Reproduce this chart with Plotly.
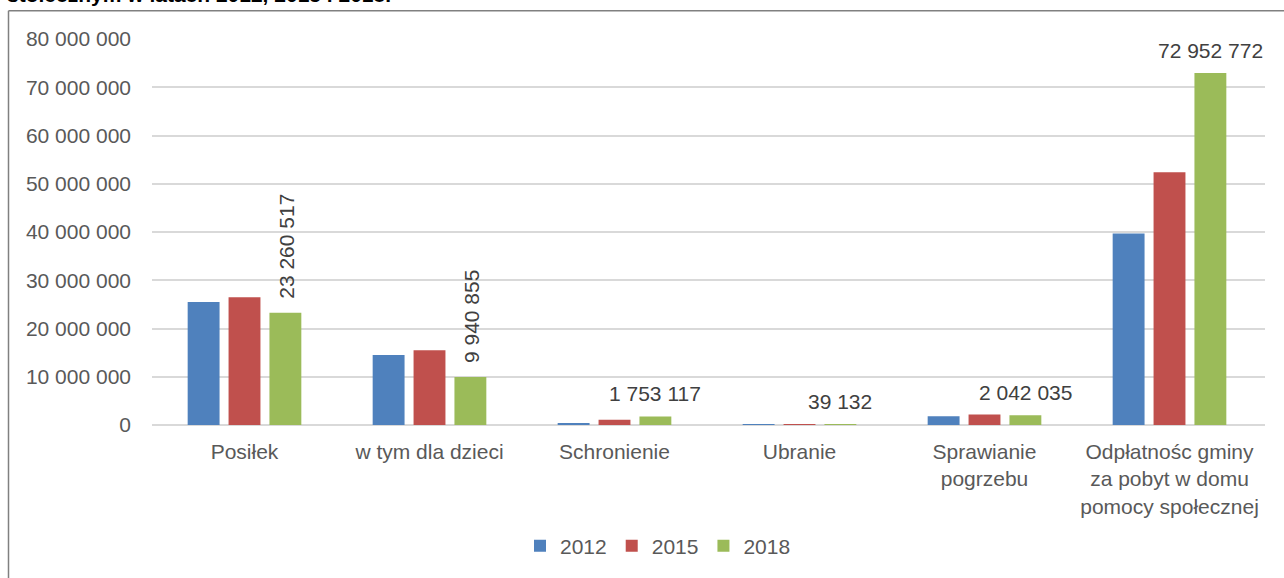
import plotly.graph_objects as go

categories = ["Posiłek", "w tym dla dzieci", "Schronienie", "Ubranie",
              "Sprawianie<br>pogrzebu",
              "Odpłatnośc gminy<br>za pobyt w domu<br>pomocy społecznej"]
years = ["2012", "2015", "2018"]
v2012 = [25500000, 14500000, 400000, 50000, 1800000, 39700000]
v2015 = [26500000, 15500000, 1100000, 40000, 2200000, 52400000]
v2018 = [23260517, 9940855, 1753117, 39132, 2042035, 72952772]
label_text = ["23 260 517", "9 940 855", "1 753 117", "39 132", "2 042 035", "72 952 772"]
label_vertical = [True, True, False, False, False, False]
colors = ["#4F81BD", "#C0504D", "#9BBB59"]
yticks = [0, 10000000, 20000000, 30000000, 40000000, 50000000, 60000000, 70000000, 80000000]
ytick_text = ["0", "10 000 000", "20 000 000", "30 000 000", "40 000 000",
              "50 000 000", "60 000 000", "70 000 000", "80 000 000"]
title_text = "stołecznym w latach 2012, 2015 i 2018."

FONT = "Liberation Sans, Arial, sans-serif"
FS = 21
W, H = 1284, 578
ML, MR, MT, MB = 152, 19, 39, 150
pw, ph = W - ML - MR, H - MT - MB
BARGAP, GROUPGAP = 0.337, 0.22

def px_x(p):
    return (p - ML) / pw

def px_y(p):
    return (H - MB - p) / ph

fig = go.Figure()
for name, vals, col in zip(years, [v2012, v2015, v2018], colors):
    fig.add_trace(go.Bar(x=categories, y=vals, name=name, marker_color=col,
                         marker_line_width=0))

slot = pw / len(categories) * (1 - BARGAP) / 3
annotations = []
for cat, val, txt, vert in zip(categories, v2018, label_text, label_vertical):
    if vert:
        annotations.append(dict(x=cat, y=val, xref="x", yref="y", text=txt,
                                textangle=-90, showarrow=False, xshift=slot + 1,
                                yanchor="bottom", yshift=12,
                                font=dict(family=FONT, size=FS, color="#404040")))
    else:
        annotations.append(dict(x=cat, y=val, xref="x", yref="y", text=txt,
                                showarrow=False, xshift=slot,
                                yanchor="middle", yshift=23,
                                font=dict(family=FONT, size=FS, color="#404040")))

annotations.append(dict(x=px_x(5), y=px_y(-6), xref="paper", yref="paper",
                        text="<b>" + title_text + "</b>", showarrow=False,
                        xanchor="left", yanchor="middle",
                        font=dict(family=FONT, size=FS, color="#000000")))

shapes = [
    dict(type="line", xref="paper", yref="paper", x0=px_x(8.5), x1=px_x(8.5),
         y0=px_y(600), y1=px_y(10.5), line=dict(color="#808080", width=1.5)),
    dict(type="line", xref="paper", yref="paper", x0=px_x(8.5), x1=px_x(1300),
         y0=px_y(10.5), y1=px_y(10.5), line=dict(color="#808080", width=1.5)),
]

fig.update_layout(
    width=W, height=H,
    margin=dict(l=ML, r=MR, t=MT, b=MB, pad=0),
    paper_bgcolor="white", plot_bgcolor="white",
    barmode="group", bargap=BARGAP, bargroupgap=GROUPGAP,
    font=dict(family=FONT, size=FS, color="#595959"),
    showlegend=True,
    legend=dict(orientation="h", x=px_x(658), y=px_y(550), xanchor="center",
                yanchor="middle", font=dict(family=FONT, size=FS, color="#595959"),
                itemwidth=30, tracegroupgap=0),
    annotations=annotations,
    shapes=shapes,
)
fig.update_xaxes(type="category", categoryorder="array", categoryarray=categories,
                 showgrid=False, showline=False, ticks="", zeroline=False,
                 ticklabelstandoff=12,
                 tickfont=dict(family=FONT, size=FS, color="#595959"))
fig.update_yaxes(range=[0, 80000000], tickvals=yticks, ticktext=ytick_text,
                 showgrid=True, gridcolor="#D9D9D9", gridwidth=1.5,
                 zeroline=True, zerolinecolor="#D9D9D9", zerolinewidth=1.5,
                 showline=False, ticks="", ticklabelstandoff=20,
                 tickfont=dict(family=FONT, size=FS, color="#595959"))

fig.write_html("out.html", config={"displayModeBar": False},
               post_script="document.body.style.margin='0';document.body.style.overflow='hidden';")
